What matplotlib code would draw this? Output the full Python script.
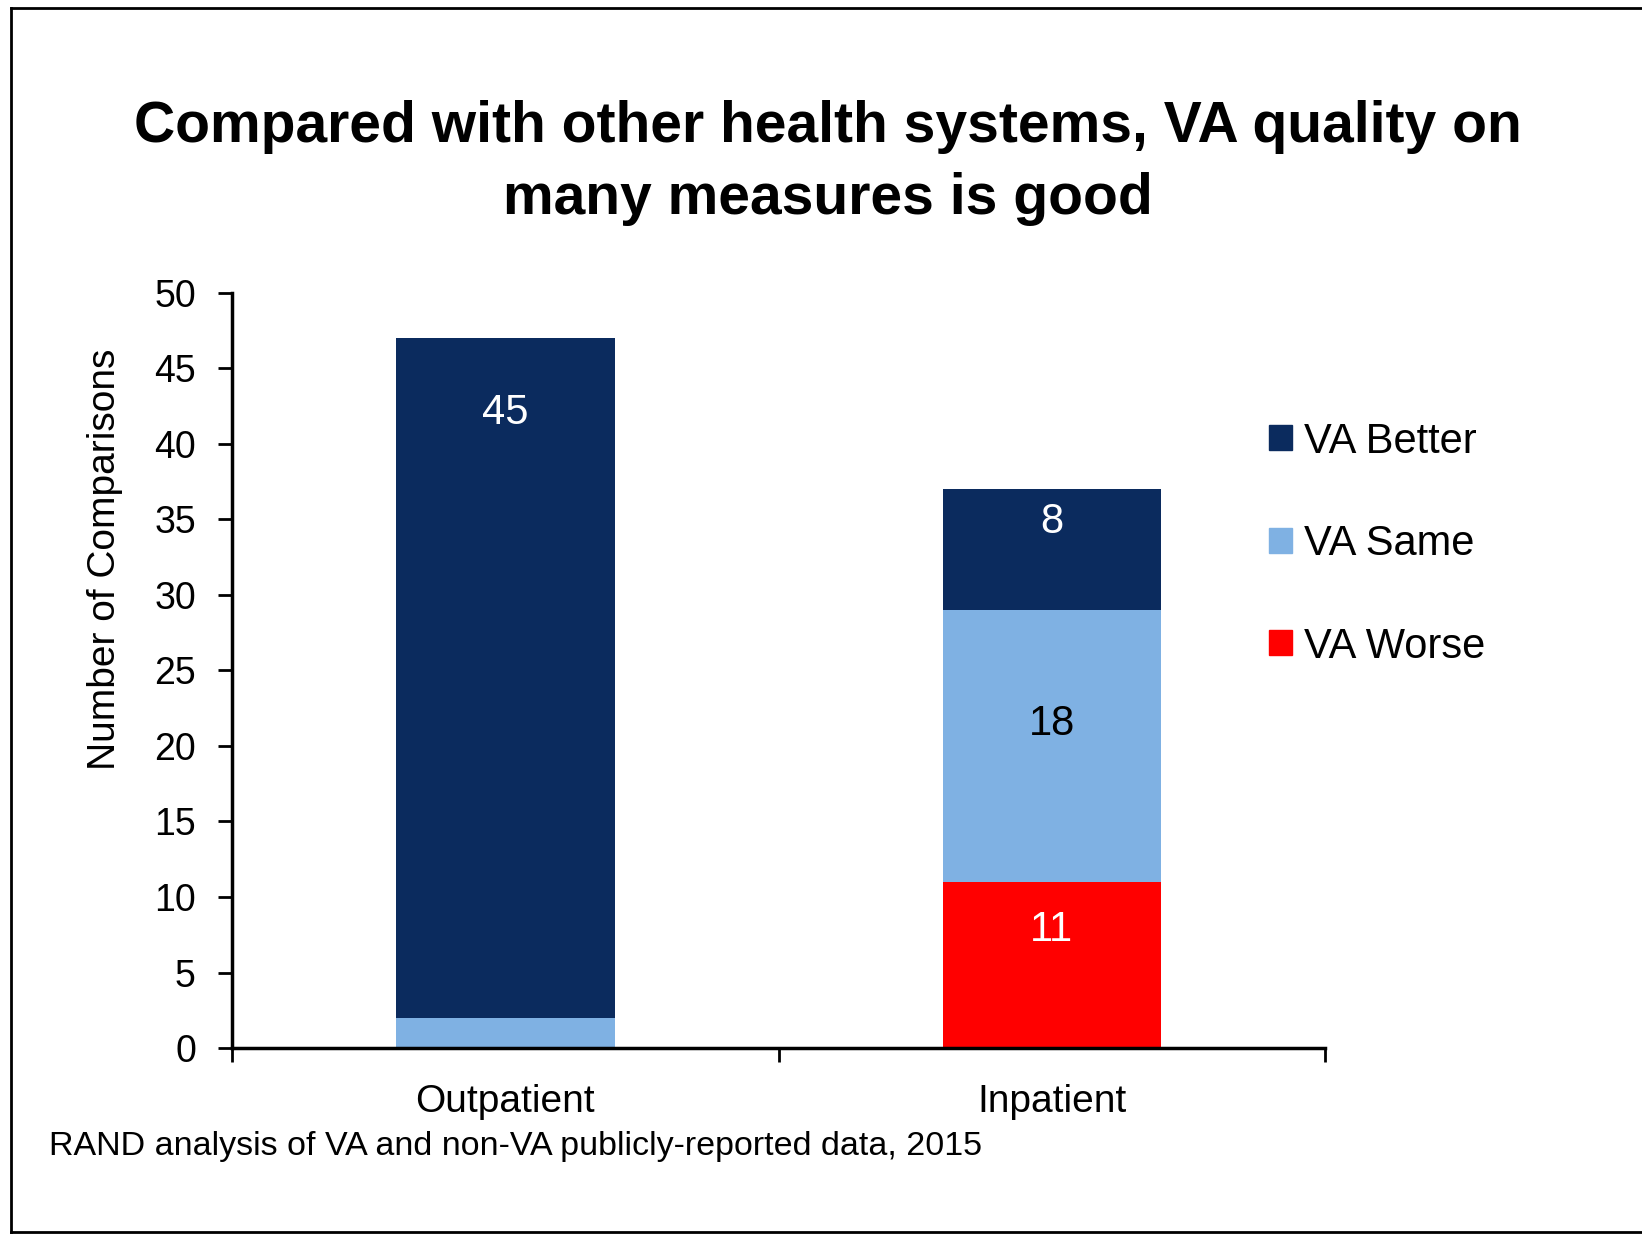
import matplotlib
matplotlib.use("Agg")
import matplotlib.pyplot as plt
from matplotlib.lines import Line2D
from matplotlib.patches import Patch
import numpy as np

categories = ["Outpatient", "Inpatient"]
series_names = ["VA Worse", "VA Same", "VA Better"]
va_worse = [0, 11]
va_same = [2, 18]
va_better = [45, 8]
series_colors = {"VA Worse": "#FF0000", "VA Same": "#7FB1E3", "VA Better": "#0B2B5E"}

title = "Compared with other health systems, VA quality on\nmany measures is good"
ylabel = "Number of Comparisons"
source = "RAND analysis of VA and non-VA publicly-reported data, 2015"

# where the numbers sit inside each segment (fraction of segment height)
label_frac = {(0, "VA Better"): 0.89, (1, "VA Better"): 0.73,
              (1, "VA Same"): 0.58, (1, "VA Worse"): 0.71}
label_color = {"VA Better": "white", "VA Same": "black", "VA Worse": "white"}

FAM = ['Liberation Sans', 'DejaVu Sans']
plt.rcParams['font.family'] = FAM

fig = plt.figure(figsize=(16.42, 12.35), dpi=100)
ax = fig.add_axes([0.1413, 0.1514, 0.6657, 0.6114])

x = np.arange(len(categories))
values = {"VA Worse": va_worse, "VA Same": va_same, "VA Better": va_better}
bottom = np.zeros(len(categories))
for name in series_names:
    vals = np.array(values[name], dtype=float)
    ax.bar(x, vals, width=0.4, bottom=bottom, color=series_colors[name], zorder=2)
    for i, v in enumerate(vals):
        if (i, name) in label_frac and v > 0:
            ax.text(x[i], bottom[i] + v * label_frac[(i, name)], f"{int(v)}",
                    ha="center", va="center", fontsize=30, color=label_color[name])
    bottom += vals

ax.set_xlim(-0.5, 1.5)
ax.set_ylim(0, 50)
ax.set_yticks(np.arange(0, 51, 5))
ax.set_xticks([-0.5, 0.5, 1.5])
ax.set_xticklabels([])
ax.set_xticks(x, minor=True)
ax.set_xticklabels(categories, minor=True, fontsize=28)
ax.tick_params(axis="x", which="minor", length=0, pad=26)
ax.tick_params(axis="x", which="major", length=10, width=2, direction="out")
ax.tick_params(axis="y", length=10, width=2, direction="out", labelsize=27, pad=16)
for s in ["top", "right"]:
    ax.spines[s].set_visible(False)
for s in ["left", "bottom"]:
    ax.spines[s].set_linewidth(2.5)

fig.text(0.064, 0.547, ylabel, rotation=90, ha="center", va="center", fontsize=28)

fig.text(0.504, 0.868, title, ha="center", va="center", fontsize=41, fontweight="bold",
         linespacing=1.45)

handles = [Patch(color=series_colors[n], label=n) for n in ["VA Better", "VA Same", "VA Worse"]]
fig.legend(handles=handles, loc="center left", bbox_to_anchor=(0.75, 0.5595), frameon=False,
           handlelength=0.55, handleheight=0.55, handletextpad=0.3,
           labelspacing=1.5, prop={'family': FAM, 'size': 30})

fig.text(0.03, 0.072, source, ha="left", va="center", fontsize=24.5)

# frame round the picture (left, top, bottom)
fig.add_artist(Line2D([0.0065, 0.0065], [0.0025, 0.9935], transform=fig.transFigure, color="black", lw=2))
fig.add_artist(Line2D([0.0065, 1.0], [0.9935, 0.9935], transform=fig.transFigure, color="black", lw=2))
fig.add_artist(Line2D([0.0065, 1.0], [0.0025, 0.0025], transform=fig.transFigure, color="black", lw=2))

fig.savefig("out.png", dpi=100)
